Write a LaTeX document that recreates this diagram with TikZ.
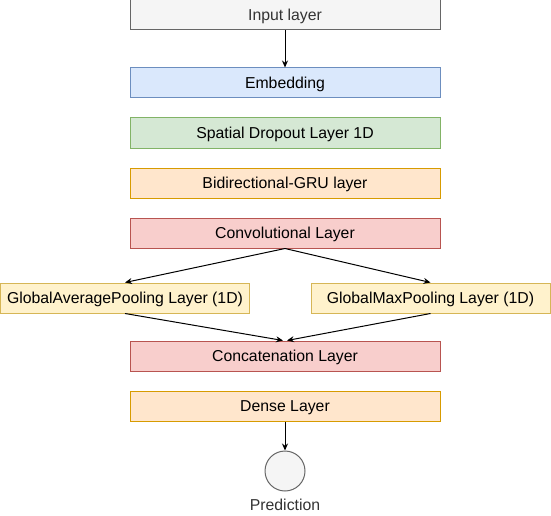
\documentclass[tikz,border=0pt]{standalone}
\usepackage{fontspec}
\setmainfont{Liberation Sans}
\usetikzlibrary{arrows.meta, positioning}

\definecolor{grayfill}{HTML}{F5F5F5}
\definecolor{graydraw}{HTML}{666666}
\definecolor{graytext}{HTML}{333333}
\definecolor{bluefill}{HTML}{DAE8FC}
\definecolor{bluedraw}{HTML}{6C8EBF}
\definecolor{greenfill}{HTML}{D5E8D4}
\definecolor{greendraw}{HTML}{82B366}
\definecolor{orangefill}{HTML}{FFE6CC}
\definecolor{orangedraw}{HTML}{D79B00}
\definecolor{redfill}{HTML}{F8CECC}
\definecolor{reddraw}{HTML}{B85450}
\definecolor{yellowfill}{HTML}{FFF2CC}
\definecolor{yellowdraw}{HTML}{D6B656}

\begin{document}
\begin{tikzpicture}[x=1pt, y=-1pt]
\tikzset{
    layer/.style={rectangle, draw, line width=1pt, minimum width=310pt,
        minimum height=30pt, inner sep=0pt, text height=14.3pt, text depth=3.35pt,
        font=\fontsize{15.8}{18}\selectfont},
    graylayer/.style={layer, fill=grayfill, draw=graydraw, text=graytext},
    bluelayer/.style={layer, fill=bluefill, draw=bluedraw},
    greenlayer/.style={layer, fill=greenfill, draw=greendraw},
    orangelayer/.style={layer, fill=orangefill, draw=orangedraw},
    redlayer/.style={layer, fill=redfill, draw=reddraw},
    yellowlayer/.style={layer, fill=yellowfill, draw=yellowdraw},
    link/.style={-{Stealth[length=7pt, width=6pt]}, line width=1pt}
}
\useasboundingbox (0,0) rectangle (551,516);

% Layers
\node[graylayer]   (input)  at (285,15)  {Input layer};
\node[bluelayer]   (embed)  at (285,83)  {Embedding};
\node[greenlayer]  (drop)   at (285,133) {Spatial Dropout Layer 1D};
\node[orangelayer] (bigru)  at (285,183) {Bidirectional-GRU layer};
\node[redlayer]    (conv)   at (285,233) {Convolutional Layer};

\node[yellowlayer, minimum width=249pt] (avgpool) at (125,298) {GlobalAveragePooling Layer (1D)};
\node[yellowlayer, minimum width=239pt] (maxpool) at (430.5,298) {GlobalMaxPooling Layer (1D)};

\node[redlayer]    (concat) at (285,356) {Concatenation Layer};
\node[orangelayer] (dense)  at (285,406) {Dense Layer};

% Output
\node[circle, draw=graydraw, fill=grayfill, line width=1pt, minimum size=40pt,
    inner sep=0pt] (pred) at (285,471) {};
\node[font=\fontsize{15.8}{18}\selectfont, text=graytext, inner sep=0pt,
    text height=14.3pt, text depth=3.35pt] (predlabel) at (285,505) {Prediction};

% Connections
\draw[link] (input.south) -- (embed.north);
\draw[link] (conv.south) -- (avgpool.north);
\draw[link] (conv.south) -- (maxpool.north);
\draw[link] (avgpool.south) -- ([xshift=-2pt]concat.north);
\draw[link] (maxpool.south) -- ([xshift=2pt]concat.north);
\draw[link] (dense.south) -- (pred.north);

\end{tikzpicture}
\end{document}
